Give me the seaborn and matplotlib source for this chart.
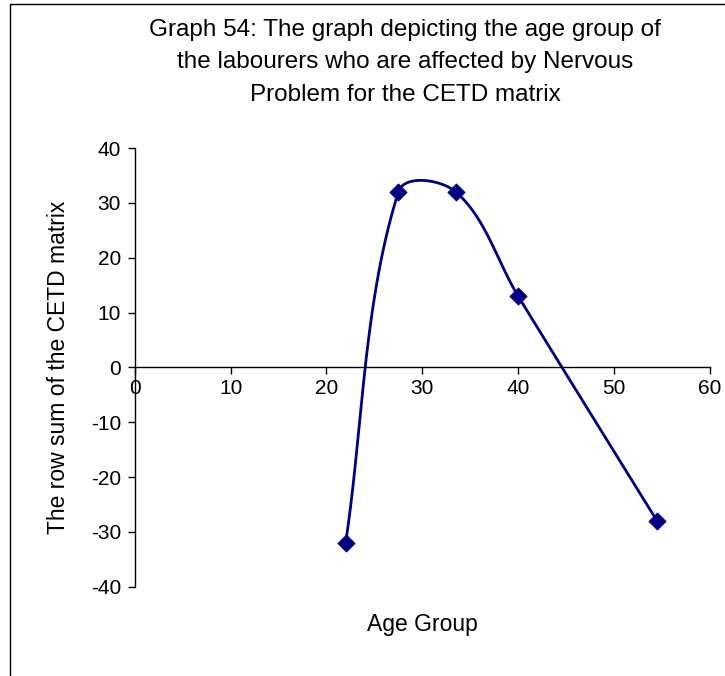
import numpy as np
import pandas as pd
import matplotlib
matplotlib.use('Agg')
import matplotlib.pyplot as plt
import seaborn as sns
from matplotlib.lines import Line2D

# data
age_group = [22, 27.5, 33.5, 40, 54.5]
row_sum = [-32, 32, 32, 13, -28]

x_ticks = [0, 10, 20, 30, 40, 50, 60]
y_ticks = [-40, -30, -20, -10, 0, 10, 20, 30, 40]

title = ('Graph 54: The graph depicting the age group of\n'
         'the labourers who are affected by Nervous\n'
         'Problem for the CETD matrix')

sns.set_style('white')
plt.rcParams['font.family'] = ['Liberation Sans', 'DejaVu Sans']
plt.rcParams['axes.unicode_minus'] = False
plt.rcParams['text.color'] = 'black'
plt.rcParams['axes.labelcolor'] = 'black'
plt.rcParams['xtick.color'] = 'black'
plt.rcParams['ytick.color'] = 'black'

line_color = '#000080'


# Excel style smoothed line: cubic bezier pieces, built in screen space
def smooth_curve(ax, xs, ys, k=0.33, n=60):
    pts = ax.transData.transform(np.column_stack([xs, ys]).astype(float))
    m = len(pts)
    dirs = []
    for i in range(m):
        d = pts[min(i + 1, m - 1)] - pts[max(i - 1, 0)]
        dirs.append(d / np.hypot(*d))
    out = []
    for i in range(m - 1):
        p0, p1 = pts[i], pts[i + 1]
        seg_len = np.hypot(*(p1 - p0))
        c1 = p0 + dirs[i] * k * seg_len
        c2 = p1 - dirs[i + 1] * k * seg_len
        t = np.linspace(0, 1, n)[:, None]
        seg = ((1 - t) ** 3) * p0 + 3 * ((1 - t) ** 2) * t * c1 \
            + 3 * (1 - t) * t ** 2 * c2 + t ** 3 * p1
        out.append(seg if i == 0 else seg[1:])
    out = ax.transData.inverted().transform(np.vstack(out))
    return pd.DataFrame({'x': out[:, 0], 'y': out[:, 1]})


points = pd.DataFrame({'age': age_group, 'sum': row_sum})

fig = plt.figure(figsize=(7.25, 6.76), dpi=100)
ax = fig.add_axes([0.186, 0.132, 0.793, 0.649])
ax.set_xlim(0, 60)
ax.set_ylim(-40, 40)

curve = smooth_curve(ax, age_group, row_sum)
sns.lineplot(data=curve, x='x', y='y', sort=False, color=line_color,
             linewidth=2, ax=ax)
sns.scatterplot(data=points, x='age', y='sum', marker='D', s=75,
                color=line_color, edgecolor=line_color, zorder=5, ax=ax)

ax.set_xlim(0, 60)
ax.set_ylim(-40, 40)
ax.set_xticks(x_ticks)
ax.set_yticks(y_ticks)

ax.spines['right'].set_visible(False)
ax.spines['top'].set_visible(False)
ax.spines['bottom'].set_position(('data', 0))
for s in ['left', 'bottom']:
    ax.spines[s].set_color('black')
    ax.spines[s].set_linewidth(1)

ax.tick_params(axis='both', direction='out', length=5, width=1,
               color='black', labelsize=15, bottom=True, left=True)
ax.tick_params(axis='y', pad=5)
ax.tick_params(axis='x', pad=3)

ax.set_xlabel('')
ax.set_ylabel('The row sum of the CETD matrix', fontsize=16.5)
ax.yaxis.set_label_coords(-0.113, 0.5)

fig.text(0.583, 0.0755, 'Age Group', ha='center', va='center', fontsize=16.5)
fig.text(0.559, 0.972, title, ha='center', va='top', fontsize=17.5,
         linespacing=1.62)

# frame lines of the original chart area (top and left only)
fig.add_artist(Line2D([0.014, 1], [0.994, 0.994], color='black', lw=1,
                      transform=fig.transFigure))
fig.add_artist(Line2D([0.014, 0.014], [0, 0.994], color='black', lw=1,
                      transform=fig.transFigure))

fig.savefig('out.png', dpi=100)
